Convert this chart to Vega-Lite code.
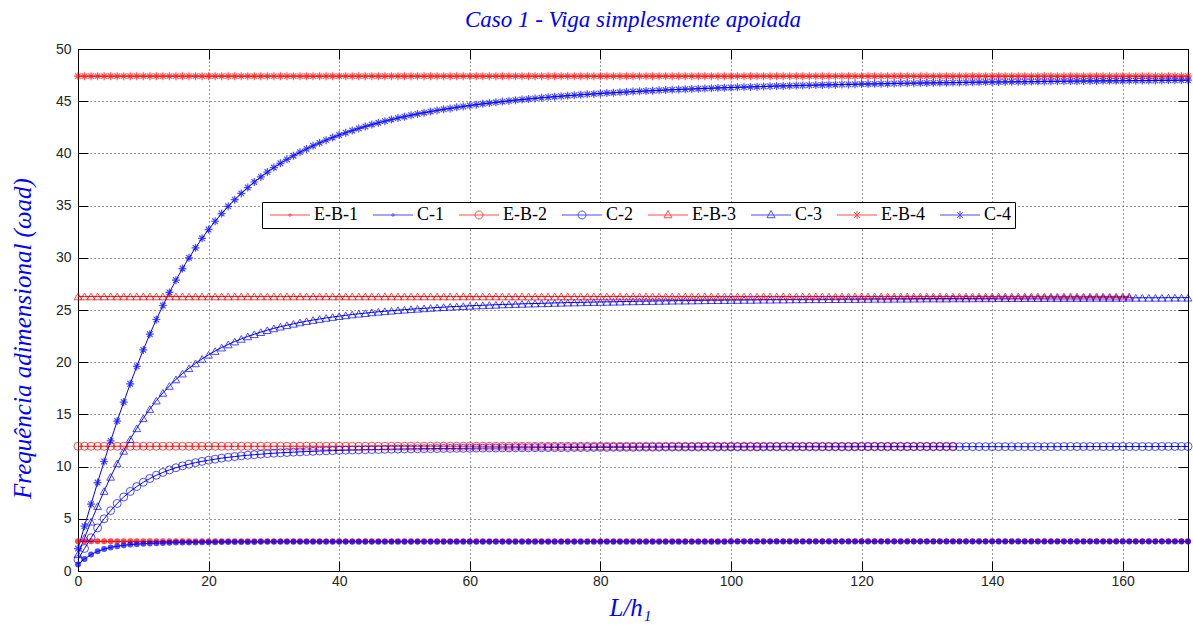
{
"$schema": "https://vega.github.io/schema/vega-lite/v6.json",
"width": 1110, "height": 522,
"autosize": "none",
"padding": {"left": 78, "top": 49, "right": 5, "bottom": 62},
"background": "white",
"title": {"text": "Caso 1 - Viga simplesmente apoiada", "font": "Liberation Serif", "fontStyle": "italic", "fontWeight": "normal", "fontSize": 23, "color": "#0000FF", "anchor": "middle", "offset": 10},
"data": {"values": [
{"x":0,"E-B-1":2.84,"C-1":0.62,"E-B-2":11.95,"C-2":1.10,"E-B-3":26.3,"C-3":1.60,"E-B-4":47.4,"C-4":2.15},
{"x":1,"E-B-1":2.84,"C-1":1.15,"E-B-2":11.95,"C-2":2.16,"E-B-3":26.3,"C-3":3.18,"E-B-4":47.4,"C-4":4.29},
{"x":2,"E-B-1":2.84,"C-1":1.57,"E-B-2":11.95,"C-2":3.18,"E-B-3":26.3,"C-3":4.72,"E-B-4":47.4,"C-4":6.40},
{"x":3,"E-B-1":2.84,"C-1":1.88,"E-B-2":11.95,"C-2":4.13,"E-B-3":26.3,"C-3":6.22,"E-B-4":47.4,"C-4":8.47},
{"x":4,"E-B-1":2.84,"C-1":2.10,"E-B-2":11.95,"C-2":5.00,"E-B-3":26.3,"C-3":7.66,"E-B-4":47.4,"C-4":10.49},
{"x":5,"E-B-1":2.84,"C-1":2.26,"E-B-2":11.95,"C-2":5.78,"E-B-3":26.3,"C-3":9.02,"E-B-4":47.4,"C-4":12.46},
{"x":6,"E-B-1":2.84,"C-1":2.38,"E-B-2":11.95,"C-2":6.47,"E-B-3":26.3,"C-3":10.31,"E-B-4":47.4,"C-4":14.36},
{"x":7,"E-B-1":2.84,"C-1":2.46,"E-B-2":11.95,"C-2":7.09,"E-B-3":26.3,"C-3":11.51,"E-B-4":47.4,"C-4":16.18},
{"x":8,"E-B-1":2.84,"C-1":2.53,"E-B-2":11.95,"C-2":7.62,"E-B-3":26.3,"C-3":12.63,"E-B-4":47.4,"C-4":17.93},
{"x":9,"E-B-1":2.84,"C-1":2.57,"E-B-2":11.95,"C-2":8.09,"E-B-3":26.3,"C-3":13.67,"E-B-4":47.4,"C-4":19.60},
{"x":10,"E-B-1":2.84,"C-1":2.61,"E-B-2":11.95,"C-2":8.50,"E-B-3":26.3,"C-3":14.63,"E-B-4":47.4,"C-4":21.18},
{"x":11,"E-B-1":2.84,"C-1":2.64,"E-B-2":11.95,"C-2":8.86,"E-B-3":26.3,"C-3":15.51,"E-B-4":47.4,"C-4":22.68},
{"x":12,"E-B-1":2.84,"C-1":2.67,"E-B-2":11.95,"C-2":9.17,"E-B-3":26.3,"C-3":16.32,"E-B-4":47.4,"C-4":24.09},
{"x":13,"E-B-1":2.84,"C-1":2.69,"E-B-2":11.95,"C-2":9.44,"E-B-3":26.3,"C-3":17.06,"E-B-4":47.4,"C-4":25.43},
{"x":14,"E-B-1":2.84,"C-1":2.70,"E-B-2":11.95,"C-2":9.68,"E-B-3":26.3,"C-3":17.73,"E-B-4":47.4,"C-4":26.68},
{"x":15,"E-B-1":2.84,"C-1":2.72,"E-B-2":11.95,"C-2":9.89,"E-B-3":26.3,"C-3":18.35,"E-B-4":47.4,"C-4":27.86},
{"x":16,"E-B-1":2.84,"C-1":2.73,"E-B-2":11.95,"C-2":10.07,"E-B-3":26.3,"C-3":18.91,"E-B-4":47.4,"C-4":28.97},
{"x":17,"E-B-1":2.84,"C-1":2.74,"E-B-2":11.95,"C-2":10.23,"E-B-3":26.3,"C-3":19.42,"E-B-4":47.4,"C-4":30.00},
{"x":18,"E-B-1":2.84,"C-1":2.74,"E-B-2":11.95,"C-2":10.38,"E-B-3":26.3,"C-3":19.89,"E-B-4":47.4,"C-4":30.96},
{"x":19,"E-B-1":2.84,"C-1":2.75,"E-B-2":11.95,"C-2":10.50,"E-B-3":26.3,"C-3":20.32,"E-B-4":47.4,"C-4":31.87},
{"x":20,"E-B-1":2.84,"C-1":2.76,"E-B-2":11.95,"C-2":10.61,"E-B-3":26.3,"C-3":20.71,"E-B-4":47.4,"C-4":32.71},
{"x":21,"E-B-1":2.84,"C-1":2.76,"E-B-2":11.95,"C-2":10.71,"E-B-3":26.3,"C-3":21.07,"E-B-4":47.4,"C-4":33.50},
{"x":22,"E-B-1":2.84,"C-1":2.77,"E-B-2":11.95,"C-2":10.81,"E-B-3":26.3,"C-3":21.40,"E-B-4":47.4,"C-4":34.24},
{"x":23,"E-B-1":2.84,"C-1":2.77,"E-B-2":11.95,"C-2":10.89,"E-B-3":26.3,"C-3":21.70,"E-B-4":47.4,"C-4":34.93},
{"x":24,"E-B-1":2.84,"C-1":2.78,"E-B-2":11.95,"C-2":10.96,"E-B-3":26.3,"C-3":21.98,"E-B-4":47.4,"C-4":35.57},
{"x":25,"E-B-1":2.84,"C-1":2.78,"E-B-2":11.95,"C-2":11.03,"E-B-3":26.3,"C-3":22.23,"E-B-4":47.4,"C-4":36.17},
{"x":26,"E-B-1":2.84,"C-1":2.78,"E-B-2":11.95,"C-2":11.09,"E-B-3":26.3,"C-3":22.47,"E-B-4":47.4,"C-4":36.73},
{"x":27,"E-B-1":2.84,"C-1":2.78,"E-B-2":11.95,"C-2":11.14,"E-B-3":26.3,"C-3":22.68,"E-B-4":47.4,"C-4":37.26},
{"x":28,"E-B-1":2.84,"C-1":2.79,"E-B-2":11.95,"C-2":11.19,"E-B-3":26.3,"C-3":22.88,"E-B-4":47.4,"C-4":37.75},
{"x":29,"E-B-1":2.84,"C-1":2.79,"E-B-2":11.95,"C-2":11.24,"E-B-3":26.3,"C-3":23.07,"E-B-4":47.4,"C-4":38.21},
{"x":30,"E-B-1":2.84,"C-1":2.79,"E-B-2":11.95,"C-2":11.28,"E-B-3":26.3,"C-3":23.24,"E-B-4":47.4,"C-4":38.64},
{"x":31,"E-B-1":2.84,"C-1":2.80,"E-B-2":11.95,"C-2":11.32,"E-B-3":26.3,"C-3":23.40,"E-B-4":47.4,"C-4":39.05},
{"x":32,"E-B-1":2.84,"C-1":2.80,"E-B-2":11.95,"C-2":11.35,"E-B-3":26.3,"C-3":23.54,"E-B-4":47.4,"C-4":39.43},
{"x":33,"E-B-1":2.84,"C-1":2.80,"E-B-2":11.95,"C-2":11.38,"E-B-3":26.3,"C-3":23.68,"E-B-4":47.4,"C-4":39.78},
{"x":34,"E-B-1":2.84,"C-1":2.80,"E-B-2":11.95,"C-2":11.41,"E-B-3":26.3,"C-3":23.81,"E-B-4":47.4,"C-4":40.12},
{"x":35,"E-B-1":2.84,"C-1":2.80,"E-B-2":11.95,"C-2":11.44,"E-B-3":26.3,"C-3":23.93,"E-B-4":47.4,"C-4":40.43},
{"x":36,"E-B-1":2.84,"C-1":2.80,"E-B-2":11.95,"C-2":11.46,"E-B-3":26.3,"C-3":24.04,"E-B-4":47.4,"C-4":40.73},
{"x":37,"E-B-1":2.84,"C-1":2.80,"E-B-2":11.95,"C-2":11.49,"E-B-3":26.3,"C-3":24.14,"E-B-4":47.4,"C-4":41.01},
{"x":38,"E-B-1":2.84,"C-1":2.80,"E-B-2":11.95,"C-2":11.51,"E-B-3":26.3,"C-3":24.24,"E-B-4":47.4,"C-4":41.27},
{"x":39,"E-B-1":2.84,"C-1":2.80,"E-B-2":11.95,"C-2":11.53,"E-B-3":26.3,"C-3":24.33,"E-B-4":47.4,"C-4":41.52},
{"x":40,"E-B-1":2.84,"C-1":2.80,"E-B-2":11.95,"C-2":11.55,"E-B-3":26.3,"C-3":24.41,"E-B-4":47.4,"C-4":41.76},
{"x":41,"E-B-1":2.84,"C-1":2.80,"E-B-2":11.95,"C-2":11.57,"E-B-3":26.3,"C-3":24.49,"E-B-4":47.4,"C-4":41.98},
{"x":42,"E-B-1":2.84,"C-1":2.80,"E-B-2":11.95,"C-2":11.59,"E-B-3":26.3,"C-3":24.57,"E-B-4":47.4,"C-4":42.19},
{"x":43,"E-B-1":2.84,"C-1":2.80,"E-B-2":11.95,"C-2":11.60,"E-B-3":26.3,"C-3":24.64,"E-B-4":47.4,"C-4":42.39},
{"x":44,"E-B-1":2.84,"C-1":2.80,"E-B-2":11.95,"C-2":11.62,"E-B-3":26.3,"C-3":24.70,"E-B-4":47.4,"C-4":42.58},
{"x":45,"E-B-1":2.84,"C-1":2.80,"E-B-2":11.95,"C-2":11.63,"E-B-3":26.3,"C-3":24.77,"E-B-4":47.4,"C-4":42.76},
{"x":46,"E-B-1":2.84,"C-1":2.80,"E-B-2":11.95,"C-2":11.64,"E-B-3":26.3,"C-3":24.83,"E-B-4":47.4,"C-4":42.93},
{"x":47,"E-B-1":2.84,"C-1":2.80,"E-B-2":11.95,"C-2":11.66,"E-B-3":26.3,"C-3":24.88,"E-B-4":47.4,"C-4":43.09},
{"x":48,"E-B-1":2.84,"C-1":2.80,"E-B-2":11.95,"C-2":11.67,"E-B-3":26.3,"C-3":24.93,"E-B-4":47.4,"C-4":43.24},
{"x":49,"E-B-1":2.84,"C-1":2.80,"E-B-2":11.95,"C-2":11.68,"E-B-3":26.3,"C-3":24.99,"E-B-4":47.4,"C-4":43.39},
{"x":50,"E-B-1":2.84,"C-1":2.81,"E-B-2":11.95,"C-2":11.69,"E-B-3":26.3,"C-3":25.03,"E-B-4":47.4,"C-4":43.52},
{"x":51,"E-B-1":2.84,"C-1":2.81,"E-B-2":11.95,"C-2":11.70,"E-B-3":26.3,"C-3":25.08,"E-B-4":47.4,"C-4":43.66},
{"x":52,"E-B-1":2.84,"C-1":2.81,"E-B-2":11.95,"C-2":11.71,"E-B-3":26.3,"C-3":25.12,"E-B-4":47.4,"C-4":43.78},
{"x":53,"E-B-1":2.84,"C-1":2.81,"E-B-2":11.95,"C-2":11.72,"E-B-3":26.3,"C-3":25.16,"E-B-4":47.4,"C-4":43.90},
{"x":54,"E-B-1":2.84,"C-1":2.81,"E-B-2":11.95,"C-2":11.72,"E-B-3":26.3,"C-3":25.20,"E-B-4":47.4,"C-4":44.01},
{"x":55,"E-B-1":2.84,"C-1":2.81,"E-B-2":11.95,"C-2":11.73,"E-B-3":26.3,"C-3":25.24,"E-B-4":47.4,"C-4":44.12},
{"x":56,"E-B-1":2.84,"C-1":2.81,"E-B-2":11.95,"C-2":11.74,"E-B-3":26.3,"C-3":25.27,"E-B-4":47.4,"C-4":44.22},
{"x":57,"E-B-1":2.84,"C-1":2.81,"E-B-2":11.95,"C-2":11.74,"E-B-3":26.3,"C-3":25.31,"E-B-4":47.4,"C-4":44.31},
{"x":58,"E-B-1":2.84,"C-1":2.81,"E-B-2":11.95,"C-2":11.75,"E-B-3":26.3,"C-3":25.34,"E-B-4":47.4,"C-4":44.41},
{"x":59,"E-B-1":2.84,"C-1":2.81,"E-B-2":11.95,"C-2":11.75,"E-B-3":26.3,"C-3":25.37,"E-B-4":47.4,"C-4":44.50},
{"x":60,"E-B-1":2.84,"C-1":2.81,"E-B-2":11.95,"C-2":11.76,"E-B-3":26.3,"C-3":25.40,"E-B-4":47.4,"C-4":44.58},
{"x":61,"E-B-1":2.84,"C-1":2.81,"E-B-2":11.95,"C-2":11.77,"E-B-3":26.3,"C-3":25.43,"E-B-4":47.4,"C-4":44.67},
{"x":62,"E-B-1":2.84,"C-1":2.81,"E-B-2":11.95,"C-2":11.77,"E-B-3":26.3,"C-3":25.45,"E-B-4":47.4,"C-4":44.75},
{"x":63,"E-B-1":2.84,"C-1":2.81,"E-B-2":11.95,"C-2":11.78,"E-B-3":26.3,"C-3":25.48,"E-B-4":47.4,"C-4":44.82},
{"x":64,"E-B-1":2.84,"C-1":2.81,"E-B-2":11.95,"C-2":11.78,"E-B-3":26.3,"C-3":25.50,"E-B-4":47.4,"C-4":44.89},
{"x":65,"E-B-1":2.84,"C-1":2.81,"E-B-2":11.95,"C-2":11.79,"E-B-3":26.3,"C-3":25.53,"E-B-4":47.4,"C-4":44.96},
{"x":66,"E-B-1":2.84,"C-1":2.81,"E-B-2":11.95,"C-2":11.79,"E-B-3":26.3,"C-3":25.55,"E-B-4":47.4,"C-4":45.03},
{"x":67,"E-B-1":2.84,"C-1":2.81,"E-B-2":11.95,"C-2":11.80,"E-B-3":26.3,"C-3":25.57,"E-B-4":47.4,"C-4":45.10},
{"x":68,"E-B-1":2.84,"C-1":2.81,"E-B-2":11.95,"C-2":11.80,"E-B-3":26.3,"C-3":25.59,"E-B-4":47.4,"C-4":45.16},
{"x":69,"E-B-1":2.84,"C-1":2.81,"E-B-2":11.95,"C-2":11.80,"E-B-3":26.3,"C-3":25.61,"E-B-4":47.4,"C-4":45.22},
{"x":70,"E-B-1":2.84,"C-1":2.81,"E-B-2":11.95,"C-2":11.81,"E-B-3":26.3,"C-3":25.62,"E-B-4":47.4,"C-4":45.27},
{"x":71,"E-B-1":2.84,"C-1":2.81,"E-B-2":11.95,"C-2":11.81,"E-B-3":26.3,"C-3":25.64,"E-B-4":47.4,"C-4":45.33},
{"x":72,"E-B-1":2.84,"C-1":2.81,"E-B-2":11.95,"C-2":11.82,"E-B-3":26.3,"C-3":25.66,"E-B-4":47.4,"C-4":45.38},
{"x":73,"E-B-1":2.84,"C-1":2.81,"E-B-2":11.95,"C-2":11.82,"E-B-3":26.3,"C-3":25.68,"E-B-4":47.4,"C-4":45.43},
{"x":74,"E-B-1":2.84,"C-1":2.81,"E-B-2":11.95,"C-2":11.82,"E-B-3":26.3,"C-3":25.69,"E-B-4":47.4,"C-4":45.48},
{"x":75,"E-B-1":2.84,"C-1":2.81,"E-B-2":11.95,"C-2":11.82,"E-B-3":26.3,"C-3":25.71,"E-B-4":47.4,"C-4":45.53},
{"x":76,"E-B-1":2.84,"C-1":2.81,"E-B-2":11.95,"C-2":11.83,"E-B-3":26.3,"C-3":25.72,"E-B-4":47.4,"C-4":45.57},
{"x":77,"E-B-1":2.84,"C-1":2.81,"E-B-2":11.95,"C-2":11.83,"E-B-3":26.3,"C-3":25.73,"E-B-4":47.4,"C-4":45.62},
{"x":78,"E-B-1":2.84,"C-1":2.81,"E-B-2":11.95,"C-2":11.83,"E-B-3":26.3,"C-3":25.75,"E-B-4":47.4,"C-4":45.66},
{"x":79,"E-B-1":2.84,"C-1":2.81,"E-B-2":11.95,"C-2":11.84,"E-B-3":26.3,"C-3":25.76,"E-B-4":47.4,"C-4":45.70},
{"x":80,"E-B-1":2.84,"C-1":2.81,"E-B-2":11.95,"C-2":11.84,"E-B-3":26.3,"C-3":25.77,"E-B-4":47.4,"C-4":45.74},
{"x":81,"E-B-1":2.84,"C-1":2.81,"E-B-2":11.95,"C-2":11.84,"E-B-3":26.3,"C-3":25.78,"E-B-4":47.4,"C-4":45.78},
{"x":82,"E-B-1":2.84,"C-1":2.81,"E-B-2":11.95,"C-2":11.85,"E-B-3":26.3,"C-3":25.79,"E-B-4":47.4,"C-4":45.81},
{"x":83,"E-B-1":2.84,"C-1":2.81,"E-B-2":11.95,"C-2":11.85,"E-B-3":26.3,"C-3":25.80,"E-B-4":47.4,"C-4":45.85},
{"x":84,"E-B-1":2.84,"C-1":2.81,"E-B-2":11.95,"C-2":11.85,"E-B-3":26.3,"C-3":25.82,"E-B-4":47.4,"C-4":45.88},
{"x":85,"E-B-1":2.84,"C-1":2.81,"E-B-2":11.95,"C-2":11.85,"E-B-3":26.3,"C-3":25.83,"E-B-4":47.4,"C-4":45.92},
{"x":86,"E-B-1":2.84,"C-1":2.81,"E-B-2":11.95,"C-2":11.86,"E-B-3":26.3,"C-3":25.84,"E-B-4":47.4,"C-4":45.95},
{"x":87,"E-B-1":2.84,"C-1":2.81,"E-B-2":11.95,"C-2":11.86,"E-B-3":26.3,"C-3":25.85,"E-B-4":47.4,"C-4":45.98},
{"x":88,"E-B-1":2.84,"C-1":2.81,"E-B-2":11.95,"C-2":11.86,"E-B-3":26.3,"C-3":25.86,"E-B-4":47.4,"C-4":46.01},
{"x":89,"E-B-1":2.84,"C-1":2.81,"E-B-2":11.95,"C-2":11.86,"E-B-3":26.3,"C-3":25.87,"E-B-4":47.4,"C-4":46.04},
{"x":90,"E-B-1":2.84,"C-1":2.81,"E-B-2":11.95,"C-2":11.87,"E-B-3":26.3,"C-3":25.88,"E-B-4":47.4,"C-4":46.07},
{"x":91,"E-B-1":2.84,"C-1":2.81,"E-B-2":11.95,"C-2":11.87,"E-B-3":26.3,"C-3":25.89,"E-B-4":47.4,"C-4":46.10},
{"x":92,"E-B-1":2.84,"C-1":2.81,"E-B-2":11.95,"C-2":11.87,"E-B-3":26.3,"C-3":25.90,"E-B-4":47.4,"C-4":46.12},
{"x":93,"E-B-1":2.84,"C-1":2.81,"E-B-2":11.95,"C-2":11.87,"E-B-3":26.3,"C-3":25.90,"E-B-4":47.4,"C-4":46.15},
{"x":94,"E-B-1":2.84,"C-1":2.81,"E-B-2":11.95,"C-2":11.87,"E-B-3":26.3,"C-3":25.91,"E-B-4":47.4,"C-4":46.17},
{"x":95,"E-B-1":2.84,"C-1":2.81,"E-B-2":11.95,"C-2":11.87,"E-B-3":26.3,"C-3":25.92,"E-B-4":47.4,"C-4":46.20},
{"x":96,"E-B-1":2.84,"C-1":2.81,"E-B-2":11.95,"C-2":11.88,"E-B-3":26.3,"C-3":25.93,"E-B-4":47.4,"C-4":46.22},
{"x":97,"E-B-1":2.84,"C-1":2.81,"E-B-2":11.95,"C-2":11.88,"E-B-3":26.3,"C-3":25.94,"E-B-4":47.4,"C-4":46.24},
{"x":98,"E-B-1":2.84,"C-1":2.81,"E-B-2":11.95,"C-2":11.88,"E-B-3":26.3,"C-3":25.94,"E-B-4":47.4,"C-4":46.27},
{"x":99,"E-B-1":2.84,"C-1":2.81,"E-B-2":11.95,"C-2":11.88,"E-B-3":26.3,"C-3":25.95,"E-B-4":47.4,"C-4":46.29},
{"x":100,"E-B-1":2.84,"C-1":2.82,"E-B-2":11.95,"C-2":11.88,"E-B-3":26.3,"C-3":25.96,"E-B-4":47.4,"C-4":46.31},
{"x":101,"E-B-1":2.84,"C-1":2.82,"E-B-2":11.95,"C-2":11.88,"E-B-3":26.3,"C-3":25.96,"E-B-4":47.4,"C-4":46.33},
{"x":102,"E-B-1":2.84,"C-1":2.82,"E-B-2":11.95,"C-2":11.88,"E-B-3":26.3,"C-3":25.97,"E-B-4":47.4,"C-4":46.35},
{"x":103,"E-B-1":2.84,"C-1":2.82,"E-B-2":11.95,"C-2":11.88,"E-B-3":26.3,"C-3":25.97,"E-B-4":47.4,"C-4":46.37},
{"x":104,"E-B-1":2.84,"C-1":2.82,"E-B-2":11.95,"C-2":11.88,"E-B-3":26.3,"C-3":25.98,"E-B-4":47.4,"C-4":46.39},
{"x":105,"E-B-1":2.84,"C-1":2.82,"E-B-2":11.95,"C-2":11.88,"E-B-3":26.3,"C-3":25.99,"E-B-4":47.4,"C-4":46.41},
{"x":106,"E-B-1":2.84,"C-1":2.82,"E-B-2":11.95,"C-2":11.89,"E-B-3":26.3,"C-3":25.99,"E-B-4":47.4,"C-4":46.43},
{"x":107,"E-B-1":2.84,"C-1":2.82,"E-B-2":11.95,"C-2":11.89,"E-B-3":26.3,"C-3":26.00,"E-B-4":47.4,"C-4":46.45},
{"x":108,"E-B-1":2.84,"C-1":2.82,"E-B-2":11.95,"C-2":11.89,"E-B-3":26.3,"C-3":26.00,"E-B-4":47.4,"C-4":46.46},
{"x":109,"E-B-1":2.84,"C-1":2.82,"E-B-2":11.95,"C-2":11.89,"E-B-3":26.3,"C-3":26.01,"E-B-4":47.4,"C-4":46.48},
{"x":110,"E-B-1":2.84,"C-1":2.82,"E-B-2":11.95,"C-2":11.89,"E-B-3":26.3,"C-3":26.02,"E-B-4":47.4,"C-4":46.50},
{"x":111,"E-B-1":2.84,"C-1":2.82,"E-B-2":11.95,"C-2":11.89,"E-B-3":26.3,"C-3":26.02,"E-B-4":47.4,"C-4":46.51},
{"x":112,"E-B-1":2.84,"C-1":2.82,"E-B-2":11.95,"C-2":11.89,"E-B-3":26.3,"C-3":26.03,"E-B-4":47.4,"C-4":46.53},
{"x":113,"E-B-1":2.84,"C-1":2.82,"E-B-2":11.95,"C-2":11.89,"E-B-3":26.3,"C-3":26.03,"E-B-4":47.4,"C-4":46.54},
{"x":114,"E-B-1":2.84,"C-1":2.82,"E-B-2":11.95,"C-2":11.89,"E-B-3":26.3,"C-3":26.03,"E-B-4":47.4,"C-4":46.56},
{"x":115,"E-B-1":2.84,"C-1":2.82,"E-B-2":11.95,"C-2":11.89,"E-B-3":26.3,"C-3":26.04,"E-B-4":47.4,"C-4":46.57},
{"x":116,"E-B-1":2.84,"C-1":2.82,"E-B-2":11.95,"C-2":11.89,"E-B-3":26.3,"C-3":26.04,"E-B-4":47.4,"C-4":46.58},
{"x":117,"E-B-1":2.84,"C-1":2.82,"E-B-2":11.95,"C-2":11.89,"E-B-3":26.3,"C-3":26.05,"E-B-4":47.4,"C-4":46.60},
{"x":118,"E-B-1":2.84,"C-1":2.82,"E-B-2":11.95,"C-2":11.89,"E-B-3":26.3,"C-3":26.05,"E-B-4":47.4,"C-4":46.61},
{"x":119,"E-B-1":2.84,"C-1":2.82,"E-B-2":11.95,"C-2":11.89,"E-B-3":26.3,"C-3":26.05,"E-B-4":47.4,"C-4":46.62},
{"x":120,"E-B-1":2.84,"C-1":2.82,"E-B-2":11.95,"C-2":11.90,"E-B-3":26.3,"C-3":26.06,"E-B-4":47.4,"C-4":46.64},
{"x":121,"E-B-1":2.84,"C-1":2.82,"E-B-2":11.95,"C-2":11.90,"E-B-3":26.3,"C-3":26.06,"E-B-4":47.4,"C-4":46.65},
{"x":122,"E-B-1":2.84,"C-1":2.82,"E-B-2":11.95,"C-2":11.90,"E-B-3":26.3,"C-3":26.07,"E-B-4":47.4,"C-4":46.66},
{"x":123,"E-B-1":2.84,"C-1":2.82,"E-B-2":11.95,"C-2":11.90,"E-B-3":26.3,"C-3":26.07,"E-B-4":47.4,"C-4":46.67},
{"x":124,"E-B-1":2.84,"C-1":2.82,"E-B-2":11.95,"C-2":11.90,"E-B-3":26.3,"C-3":26.07,"E-B-4":47.4,"C-4":46.68},
{"x":125,"E-B-1":2.84,"C-1":2.82,"E-B-2":11.95,"C-2":11.90,"E-B-3":26.3,"C-3":26.08,"E-B-4":47.4,"C-4":46.70},
{"x":126,"E-B-1":2.84,"C-1":2.82,"E-B-2":11.95,"C-2":11.90,"E-B-3":26.3,"C-3":26.08,"E-B-4":47.4,"C-4":46.71},
{"x":127,"E-B-1":2.84,"C-1":2.82,"E-B-2":11.95,"C-2":11.90,"E-B-3":26.3,"C-3":26.08,"E-B-4":47.4,"C-4":46.72},
{"x":128,"E-B-1":2.84,"C-1":2.82,"E-B-2":11.95,"C-2":11.90,"E-B-3":26.3,"C-3":26.09,"E-B-4":47.4,"C-4":46.73},
{"x":129,"E-B-1":2.84,"C-1":2.82,"E-B-2":11.95,"C-2":11.90,"E-B-3":26.3,"C-3":26.09,"E-B-4":47.4,"C-4":46.74},
{"x":130,"E-B-1":2.84,"C-1":2.82,"E-B-2":11.95,"C-2":11.90,"E-B-3":26.3,"C-3":26.10,"E-B-4":47.4,"C-4":46.75},
{"x":131,"E-B-1":2.84,"C-1":2.82,"E-B-2":11.95,"C-2":11.90,"E-B-3":26.3,"C-3":26.10,"E-B-4":47.4,"C-4":46.76},
{"x":132,"E-B-1":2.84,"C-1":2.82,"E-B-2":11.95,"C-2":11.90,"E-B-3":26.3,"C-3":26.10,"E-B-4":47.4,"C-4":46.77},
{"x":133,"E-B-1":2.84,"C-1":2.82,"E-B-2":11.95,"C-2":11.90,"E-B-3":26.3,"C-3":26.10,"E-B-4":47.4,"C-4":46.77},
{"x":134,"E-B-1":2.84,"C-1":2.82,"E-B-2":11.95,"C-2":11.90,"E-B-3":26.3,"C-3":26.11,"E-B-4":47.4,"C-4":46.78},
{"x":135,"E-B-1":2.84,"C-1":2.82,"C-2":11.90,"E-B-3":26.3,"C-3":26.11,"E-B-4":47.4,"C-4":46.79},
{"x":136,"E-B-1":2.84,"C-1":2.82,"C-2":11.91,"E-B-3":26.3,"C-3":26.11,"E-B-4":47.4,"C-4":46.80},
{"x":137,"E-B-1":2.84,"C-1":2.82,"C-2":11.91,"E-B-3":26.3,"C-3":26.11,"E-B-4":47.4,"C-4":46.81},
{"x":138,"E-B-1":2.84,"C-1":2.82,"C-2":11.91,"E-B-3":26.3,"C-3":26.12,"E-B-4":47.4,"C-4":46.82},
{"x":139,"E-B-1":2.84,"C-1":2.82,"C-2":11.91,"E-B-3":26.3,"C-3":26.12,"E-B-4":47.4,"C-4":46.83},
{"x":140,"E-B-1":2.84,"C-1":2.82,"C-2":11.91,"E-B-3":26.3,"C-3":26.12,"E-B-4":47.4,"C-4":46.84},
{"x":141,"E-B-1":2.84,"C-1":2.82,"C-2":11.91,"E-B-3":26.3,"C-3":26.13,"E-B-4":47.4,"C-4":46.84},
{"x":142,"E-B-1":2.84,"C-1":2.82,"C-2":11.91,"E-B-3":26.3,"C-3":26.13,"E-B-4":47.4,"C-4":46.85},
{"x":143,"E-B-1":2.84,"C-1":2.82,"C-2":11.91,"E-B-3":26.3,"C-3":26.13,"E-B-4":47.4,"C-4":46.86},
{"x":144,"E-B-1":2.84,"C-1":2.82,"C-2":11.91,"E-B-3":26.3,"C-3":26.13,"E-B-4":47.4,"C-4":46.86},
{"x":145,"E-B-1":2.84,"C-1":2.82,"C-2":11.91,"E-B-3":26.3,"C-3":26.14,"E-B-4":47.4,"C-4":46.87},
{"x":146,"E-B-1":2.84,"C-1":2.82,"C-2":11.91,"E-B-3":26.3,"C-3":26.14,"E-B-4":47.4,"C-4":46.88},
{"x":147,"E-B-1":2.84,"C-1":2.82,"C-2":11.91,"E-B-3":26.3,"C-3":26.14,"E-B-4":47.4,"C-4":46.88},
{"x":148,"E-B-1":2.84,"C-1":2.82,"C-2":11.91,"E-B-3":26.3,"C-3":26.14,"E-B-4":47.4,"C-4":46.89},
{"x":149,"E-B-1":2.84,"C-1":2.82,"C-2":11.91,"E-B-3":26.3,"C-3":26.15,"E-B-4":47.4,"C-4":46.90},
{"x":150,"E-B-1":2.84,"C-1":2.82,"C-2":11.91,"E-B-3":26.3,"C-3":26.15,"E-B-4":47.4,"C-4":46.90},
{"x":151,"E-B-1":2.84,"C-1":2.82,"C-2":11.92,"E-B-3":26.3,"C-3":26.15,"E-B-4":47.4,"C-4":46.91},
{"x":152,"E-B-1":2.84,"C-1":2.82,"C-2":11.92,"E-B-3":26.3,"C-3":26.15,"E-B-4":47.4,"C-4":46.92},
{"x":153,"E-B-1":2.84,"C-1":2.82,"C-2":11.92,"E-B-3":26.3,"C-3":26.15,"E-B-4":47.4,"C-4":46.92},
{"x":154,"E-B-1":2.84,"C-1":2.82,"C-2":11.92,"E-B-3":26.3,"C-3":26.15,"E-B-4":47.4,"C-4":46.93},
{"x":155,"E-B-1":2.84,"C-1":2.82,"C-2":11.92,"E-B-3":26.3,"C-3":26.16,"E-B-4":47.4,"C-4":46.94},
{"x":156,"E-B-1":2.84,"C-1":2.82,"C-2":11.92,"E-B-3":26.3,"C-3":26.16,"E-B-4":47.4,"C-4":46.94},
{"x":157,"E-B-1":2.84,"C-1":2.82,"C-2":11.92,"E-B-3":26.3,"C-3":26.16,"E-B-4":47.4,"C-4":46.95},
{"x":158,"E-B-1":2.84,"C-1":2.82,"C-2":11.92,"E-B-3":26.3,"C-3":26.16,"E-B-4":47.4,"C-4":46.95},
{"x":159,"E-B-1":2.84,"C-1":2.82,"C-2":11.92,"E-B-3":26.3,"C-3":26.16,"E-B-4":47.4,"C-4":46.96},
{"x":160,"E-B-1":2.84,"C-1":2.82,"C-2":11.92,"E-B-3":26.3,"C-3":26.16,"E-B-4":47.4,"C-4":46.96},
{"x":161,"E-B-1":2.84,"C-1":2.82,"C-2":11.92,"E-B-3":26.3,"C-3":26.17,"E-B-4":47.4,"C-4":46.97},
{"x":162,"E-B-1":2.84,"C-1":2.82,"C-2":11.92,"C-3":26.17,"E-B-4":47.4,"C-4":46.97},
{"x":163,"E-B-1":2.84,"C-1":2.82,"C-2":11.92,"C-3":26.17,"E-B-4":47.4,"C-4":46.98},
{"x":164,"E-B-1":2.84,"C-1":2.82,"C-2":11.92,"C-3":26.17,"E-B-4":47.4,"C-4":46.98},
{"x":165,"E-B-1":2.84,"C-1":2.82,"C-2":11.92,"C-3":26.17,"E-B-4":47.4,"C-4":46.99},
{"x":166,"E-B-1":2.84,"C-1":2.82,"C-2":11.93,"C-3":26.17,"E-B-4":47.4,"C-4":46.99},
{"x":167,"E-B-1":2.84,"C-1":2.82,"C-2":11.93,"C-3":26.18,"E-B-4":47.4,"C-4":47.00},
{"x":168,"E-B-1":2.84,"C-1":2.82,"C-2":11.93,"C-3":26.18,"E-B-4":47.4,"C-4":47.00},
{"x":169,"E-B-1":2.84,"C-1":2.82,"C-2":11.93,"C-3":26.18,"E-B-4":47.4,"C-4":47.01},
{"x":170,"E-B-1":2.84,"C-1":2.82,"C-2":11.93,"C-3":26.18,"E-B-4":47.4,"C-4":47.01}
]},
"transform": [
  {"fold": ["E-B-1","C-1","E-B-2","C-2","E-B-3","C-3","E-B-4","C-4"], "as": ["series","value"]},
  {"filter": "isValid(datum.value)"}
],
"layer": [
  {
    "mark": {"type": "line", "strokeWidth": 1},
    "encoding": {
      "x": {"field": "x", "type": "quantitative", "scale": {"domain": [0,170], "nice": false, "zero": false},
        "axis": {"orient": "bottom", "values": [0,20,40,60,80,100,120,140,160], "title": "L/h₁",
          "titleFont": "Liberation Serif", "titleFontStyle": "italic", "titleFontWeight": "normal", "titleFontSize": 25, "titleColor": "#0000FF",
          "titleX": 552, "titleY": 36, "titleAlign": "center", "titleBaseline": "middle",
          "labelFont": "Liberation Sans", "labelFontSize": 14, "labelColor": "#262626", "labelPadding": 13, "labelFlush": false,
          "tickSize": -10, "tickColor": "black", "domainColor": "black",
          "grid": true, "gridDash": [1,3], "gridColor": "black", "gridOpacity": 0.8}},
      "y": {"field": "value", "type": "quantitative", "scale": {"domain": [0,50], "nice": false},
        "axis": {"orient": "left", "values": [0,5,10,15,20,25,30,35,40,45,50], "title": "Frequência adimensional (ωad)",
          "titleFont": "Liberation Serif", "titleFontStyle": "italic", "titleFontWeight": "normal", "titleFontSize": 25, "titleColor": "#0000FF",
          "titleX": -56, "titleY": 289, "titleAlign": "center", "titleBaseline": "middle", "titleAngle": 270,
          "labelFont": "Liberation Sans", "labelFontSize": 14, "labelColor": "#262626", "labelPadding": 17, "labelFlush": false,
          "tickSize": -10, "tickColor": "black", "domainColor": "black",
          "grid": true, "gridDash": [1,3], "gridColor": "black", "gridOpacity": 0.8}},
      "color": {"field": "series", "type": "nominal",
        "scale": {"domain": ["E-B-1","C-1","E-B-2","C-2","E-B-3","C-3","E-B-4","C-4"], "range": ["#FF0000","#0000FF","#FF0000","#0000FF","#FF0000","#0000FF","#FF0000","#0000FF"]},
        "legend": null}
    }
  },
  {
    "mark": {"type": "point", "filled": false},
    "encoding": {
      "x": {"field": "x", "type": "quantitative", "scale": {"domain": [0,170], "nice": false, "zero": false},
        "axis": {"orient": "top", "values": [0,20,40,60,80,100,120,140,160], "labels": false, "title": null, "grid": false, "tickSize": -10, "tickColor": "black", "domainColor": "black"}},
      "y": {"field": "value", "type": "quantitative", "scale": {"domain": [0,50], "nice": false},
        "axis": {"orient": "right", "values": [0,5,10,15,20,25,30,35,40,45,50], "labels": false, "title": null, "grid": false, "tickSize": -10, "tickColor": "black", "domainColor": "black"}},
      "color": {"field": "series", "type": "nominal",
        "scale": {"domain": ["E-B-1","C-1","E-B-2","C-2","E-B-3","C-3","E-B-4","C-4"], "range": ["#FF0000","#0000FF","#FF0000","#0000FF","#FF0000","#0000FF","#FF0000","#0000FF"]},
        "legend": null},
      "shape": {"field": "series", "type": "nominal",
        "scale": {"domain": ["E-B-1","C-1","E-B-2","C-2","E-B-3","C-3","E-B-4","C-4"],
          "range": ["circle","circle","circle","circle","triangle-up","triangle-up","M-1,0H1M0,-1V1M-0.7,-0.7L0.7,0.7M-0.7,0.7L0.7,-0.7","M-1,0H1M0,-1V1M-0.7,-0.7L0.7,0.7M-0.7,0.7L0.7,-0.7"]},
        "legend": null},
      "size": {"field": "series", "type": "nominal",
        "scale": {"type": "ordinal", "domain": ["E-B-1","C-1","E-B-2","C-2","E-B-3","C-3","E-B-4","C-4"], "range": [9,9,64,64,60,60,64,64]},
        "legend": null},
      "strokeWidth": {"field": "series", "type": "nominal",
        "scale": {"type": "ordinal", "domain": ["E-B-1","C-1","E-B-2","C-2","E-B-3","C-3","E-B-4","C-4"], "range": [3,3,1,1,1,1,1.2,1.2]},
        "legend": null}
    }
  },
  {
    "transform": [{"filter": "datum.x > 1000"}],
    "mark": {"type": "point", "filled": false},
    "encoding": {
      "color": {"field": "series", "type": "nominal",
        "scale": {"domain": ["E-B-1","C-1","E-B-2","C-2","E-B-3","C-3","E-B-4","C-4"], "range": ["#FF0000","#0000FF","#FF0000","#0000FF","#FF0000","#0000FF","#FF0000","#0000FF"]},
        "legend": {"orient": "none", "legendX": 184, "legendY": 153, "direction": "horizontal", "columns": 8, "title": null,
          "symbolSize": 100, "symbolStrokeWidth": 1, "symbolOffset": 15, "labelOffset": 15,
          "labelFont": "Liberation Serif", "labelFontSize": 18, "labelColor": "black", "labelLimit": 0,
          "padding": 4, "strokeColor": "black", "fillColor": "white", "columnPadding": 11}},
      "shape": {"field": "series", "type": "nominal",
        "scale": {"domain": ["E-B-1","C-1","E-B-2","C-2","E-B-3","C-3","E-B-4","C-4"],
          "range": ["M-4,0H4M0.25,0A0.25,0.25 0 1,1 -0.25,0A0.25,0.25 0 1,1 0.25,0","M-4,0H4M0.25,0A0.25,0.25 0 1,1 -0.25,0A0.25,0.25 0 1,1 0.25,0",
                    "M-4,0H4M0.8,0A0.8,0.8 0 1,1 -0.8,0A0.8,0.8 0 1,1 0.8,0","M-4,0H4M0.8,0A0.8,0.8 0 1,1 -0.8,0A0.8,0.8 0 1,1 0.8,0",
                    "M-4,0H4M0,-0.9L0.8,0.55L-0.8,0.55Z","M-4,0H4M0,-0.9L0.8,0.55L-0.8,0.55Z",
                    "M-4,0H4M0,-0.8V0.8M-0.57,-0.57L0.57,0.57M-0.57,0.57L0.57,-0.57","M-4,0H4M0,-0.8V0.8M-0.57,-0.57L0.57,0.57M-0.57,0.57L0.57,-0.57"]},
        "legend": {"orient": "none", "legendX": 184, "legendY": 153, "direction": "horizontal", "columns": 8, "title": null,
          "symbolSize": 100, "symbolStrokeWidth": 1, "symbolOffset": 15, "labelOffset": 15,
          "labelFont": "Liberation Serif", "labelFontSize": 18, "labelColor": "black", "labelLimit": 0,
          "padding": 4, "strokeColor": "black", "fillColor": "white", "columnPadding": 11}}
    }
  }
],
"resolve": {"scale": {"shape": "independent", "color": "independent"}, "axis": {"x": "independent", "y": "independent"}},
"config": {
  "view": {"stroke": "black", "strokeWidth": 1},
  "axis": {"domainWidth": 1, "tickWidth": 1}
}
}
